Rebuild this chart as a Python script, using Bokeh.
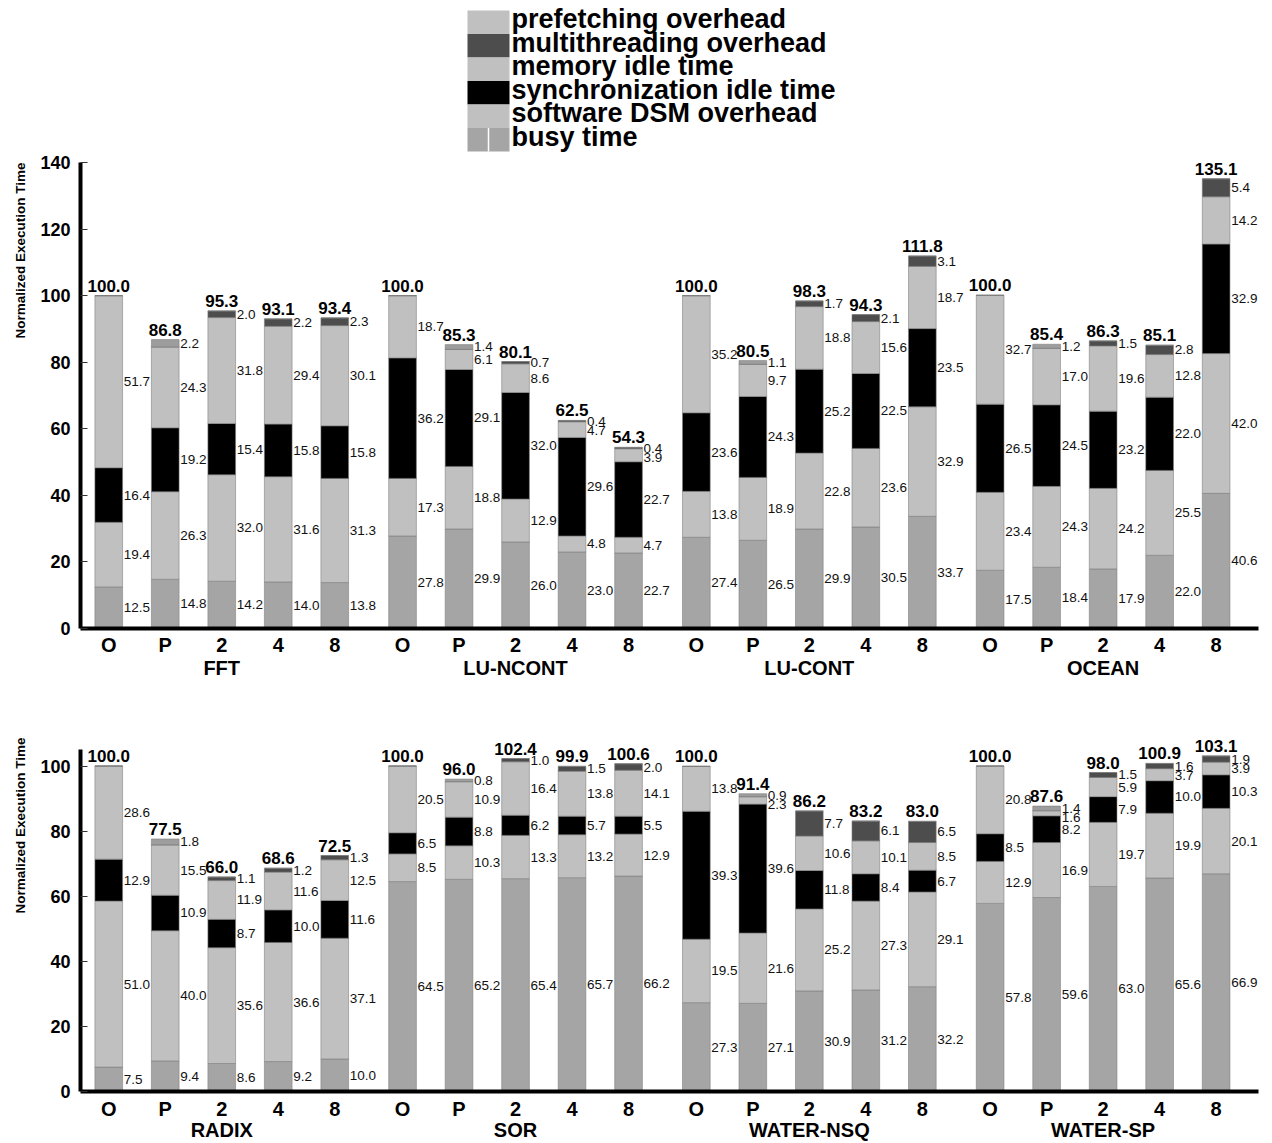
from bokeh.plotting import figure
from bokeh.models import (ColumnDataSource, LinearAxis, Range1d, FixedTicker,
                          LabelSet, Title)
from bokeh.layouts import column
from bokeh.embed import file_html
from bokeh.resources import INLINE
from bokeh.core.properties import value

# ---------------------------------------------------------------- data
configs = ["O", "P", "2", "4", "8"]

top_apps = ["FFT", "LU-NCONT", "LU-CONT", "OCEAN"]
top_busy = [12.5, 14.8, 14.2, 14.0, 13.8, 27.8, 29.9, 26.0, 23.0, 22.7,
            27.4, 26.5, 29.9, 30.5, 33.7, 17.5, 18.4, 17.9, 22.0, 40.6]
top_dsm = [19.4, 26.3, 32.0, 31.6, 31.3, 17.3, 18.8, 12.9, 4.8, 4.7,
           13.8, 18.9, 22.8, 23.6, 32.9, 23.4, 24.3, 24.2, 25.5, 42.0]
top_sync = [16.4, 19.2, 15.4, 15.8, 15.8, 36.2, 29.1, 32.0, 29.6, 22.7,
            23.6, 24.3, 25.2, 22.5, 23.5, 26.5, 24.5, 23.2, 22.0, 32.9]
top_mem = [51.7, 24.3, 31.8, 29.4, 30.1, 18.7, 6.1, 8.6, 4.7, 3.9,
           35.2, 9.7, 18.8, 15.6, 18.7, 32.7, 17.0, 19.6, 12.8, 14.2]
top_mt = [0, 0, 2.0, 2.2, 2.3, 0, 0, 0.7, 0.4, 0.4,
          0, 0, 1.7, 2.1, 3.1, 0, 0, 1.5, 2.8, 5.4]
top_pf = [0, 2.2, 0, 0, 0, 0, 1.4, 0, 0, 0,
          0, 1.1, 0, 0, 0, 0, 1.2, 0, 0, 0]
top_total = [100.0, 86.8, 95.3, 93.1, 93.4, 100.0, 85.3, 80.1, 62.5, 54.3,
             100.0, 80.5, 98.3, 94.3, 111.8, 100.0, 85.4, 86.3, 85.1, 135.1]

bot_apps = ["RADIX", "SOR", "WATER-NSQ", "WATER-SP"]
bot_busy = [7.5, 9.4, 8.6, 9.2, 10.0, 64.5, 65.2, 65.4, 65.7, 66.2,
            27.3, 27.1, 30.9, 31.2, 32.2, 57.8, 59.6, 63.0, 65.6, 66.9]
bot_dsm = [51.0, 40.0, 35.6, 36.6, 37.1, 8.5, 10.3, 13.3, 13.2, 12.9,
           19.5, 21.6, 25.2, 27.3, 29.1, 12.9, 16.9, 19.7, 19.9, 20.1]
bot_sync = [12.9, 10.9, 8.7, 10.0, 11.6, 6.5, 8.8, 6.2, 5.7, 5.5,
            39.3, 39.6, 11.8, 8.4, 6.7, 8.5, 8.2, 7.9, 10.0, 10.3]
bot_mem = [28.6, 15.5, 11.9, 11.6, 12.5, 20.5, 10.9, 16.4, 13.8, 14.1,
           13.8, 2.3, 10.6, 10.1, 8.5, 20.8, 1.6, 5.9, 3.7, 3.9]
bot_mt = [0, 0, 1.1, 1.2, 1.3, 0, 0, 1.0, 1.5, 2.0,
          0, 0, 7.7, 6.1, 6.5, 0, 0, 1.5, 1.6, 1.9]
bot_pf = [0, 1.8, 0, 0, 0, 0, 0.8, 0, 0, 0,
          0, 0.9, 0, 0, 0, 0, 1.4, 0, 0, 0]
bot_total = [100.0, 77.5, 66.0, 68.6, 72.5, 100.0, 96.0, 102.4, 99.9, 100.6,
             100.0, 91.4, 86.2, 83.2, 83.0, 100.0, 87.6, 98.0, 100.9, 103.1]

top_ticks = [0, 20, 40, 60, 80, 100, 120, 140]
bot_ticks = [0, 20, 40, 60, 80, 100]

# stacking order, bottom to top
segments = ["busy", "dsm", "sync", "mem", "mt", "pf"]
bar_colors = ["#a5a5a5", "#c0c0c0", "#000000", "#c0c0c0", "#4d4d4d", "#9d9d9d"]

legend_labels = ["prefetching overhead", "multithreading overhead",
                 "memory idle time", "synchronization idle time",
                 "software DSM overhead", "busy time"]
legend_colors = ["#c0c0c0", "#4d4d4d", "#c0c0c0", "#000000", "#c0c0c0", "#a5a5a5"]

FONT = "Liberation Sans"
W = 1272
LEFT = 80
RIGHT = 14

# x layout: 10 units per bar slot, 2 extra units between benchmark groups
SLOT = 10
GROUP_STEP = len(configs) * SLOT + 2
X_END = 208.5
BAR_W = 4.9
LABEL_GAP_PX = 9.5


def make_chart(apps, cols, totals, y_end, y_axis_top, ticks, height,
               border_top, border_bottom, title_offset, sub_standoff, group_standoff):
    xs = [gi * GROUP_STEP + ci * SLOT + SLOT / 2
          for gi in range(len(apps)) for ci in range(len(configs))]
    sub_names = [c for _ in apps for c in configs]
    group_x = [gi * GROUP_STEP + (len(configs) * SLOT) / 2 for gi in range(len(apps))]

    data = dict(x=xs)
    for name, vals in zip(segments, cols):
        data[name] = vals
    src = ColumnDataSource(data)

    frame_h = height - border_top - border_bottom
    gap = LABEL_GAP_PX * y_end / frame_h

    p = figure(width=W, height=height, output_backend="svg", toolbar_location=None,
               x_range=Range1d(0, X_END), y_range=Range1d(0, y_end),
               min_border_left=LEFT, min_border_right=RIGHT,
               min_border_top=border_top, min_border_bottom=border_bottom,
               outline_line_color=None)
    p.grid.visible = False

    p.vbar_stack(segments, x="x", width=BAR_W, source=src,
                 fill_color=bar_colors, line_color="#7c7c7c", line_width=0.8,
                 line_alpha=0.7)

    # segment value labels, right of each bar, spread apart when crowded
    lx, ly, lt = [], [], []
    for i, xv in enumerate(xs):
        base = 0.0
        entries = []
        for vals in cols:
            v = vals[i]
            if v:
                entries.append((base + v / 2.0, v))
            base += v
        prev = None
        for mid, v in reversed(entries):
            y = mid if prev is None else min(mid, prev - gap)
            prev = y
            lx.append(xv)
            ly.append(y)
            lt.append(f"{v:.1f}")
    seg_src = ColumnDataSource(dict(x=lx, y=ly, t=lt))
    p.add_layout(LabelSet(x="x", y="y", text="t", source=seg_src, x_offset=15,
                          text_align="left", text_baseline="middle",
                          text_font=value(FONT), text_font_size=value("13.5px"),
                          text_color="#111111"))

    # bar totals above each bar
    tops = [sum(c[i] for c in cols) for i in range(len(xs))]
    tot_src = ColumnDataSource(dict(x=xs, y=tops, t=[f"{t:.1f}" for t in totals]))
    p.add_layout(LabelSet(x="x", y="y", text="t", source=tot_src, y_offset=4,
                          text_align="center", text_baseline="alphabetic",
                          text_font=value(FONT), text_font_size=value("17px"),
                          text_font_style="bold", text_color="black"))

    # configuration labels under each bar
    xa = p.xaxis[0]
    xa.ticker = FixedTicker(ticks=xs)
    xa.major_label_overrides = {xv: n for xv, n in zip(xs, sub_names)}
    xa.axis_line_width = 4
    xa.axis_line_color = "black"
    xa.major_tick_line_color = None
    xa.minor_tick_line_color = None
    xa.major_label_standoff = sub_standoff
    xa.major_label_text_font = FONT
    xa.major_label_text_font_size = "20px"
    xa.major_label_text_font_style = "bold"
    xa.major_label_text_color = "black"

    # benchmark names under each group
    ga = LinearAxis(ticker=FixedTicker(ticks=group_x),
                    major_label_overrides={gx: a for gx, a in zip(group_x, apps)},
                    axis_line_color=None, major_tick_line_color=None,
                    minor_tick_line_color=None, major_label_standoff=group_standoff,
                    major_label_text_font=FONT, major_label_text_font_size="20px",
                    major_label_text_font_style="bold",
                    major_label_text_color="black")
    p.add_layout(ga, "below")

    ya = p.yaxis[0]
    ya.ticker = FixedTicker(ticks=ticks)
    ya.bounds = (0, y_axis_top)
    ya.axis_line_width = 4
    ya.axis_line_color = "black"
    ya.major_tick_in = 7
    ya.major_tick_out = 0
    ya.major_tick_line_color = "#333333"
    ya.minor_tick_line_color = None
    ya.major_label_standoff = 10
    ya.major_label_text_font = FONT
    ya.major_label_text_font_size = "18px"
    ya.major_label_text_font_style = "bold"
    ya.major_label_text_color = "black"

    ytitle = Title(text="Normalized Execution Time", align="right",
                   text_font=FONT, text_font_size="13.5px", text_font_style="bold",
                   text_color="black", standoff=19, offset=title_offset)
    p.add_layout(ytitle, "left")
    return p


# ---------------------------------------------------------------- legend
LEG_H = 152
ROW_H = 23.5
LEG_TOP = 10
SW_LEFT, SW_RIGHT = 467, 509

lp = figure(width=W, height=LEG_H, x_axis_type=None, y_axis_type=None,
            x_range=Range1d(LEFT, W - RIGHT), y_range=Range1d(LEG_H, 0),
            output_backend="svg", toolbar_location=None,
            min_border_left=LEFT, min_border_right=RIGHT,
            min_border_top=0, min_border_bottom=0,
            outline_line_color=None)
lp.grid.visible = False
row_top = [LEG_TOP + i * ROW_H for i in range(len(legend_labels))]
row_bot = [t + ROW_H for t in row_top]
row_mid = [t + ROW_H / 2 for t in row_top]
lp.quad(left=SW_LEFT, right=SW_RIGHT, top=row_top, bottom=row_bot,
        fill_color=legend_colors, line_color=None)
# thin white notch in the busy-time swatch
lp.segment(x0=488, x1=488, y0=row_top[-1], y1=row_bot[-1],
           line_color="white", line_width=1.5)
lp.text(x=SW_RIGHT + 2, y=row_mid, text=legend_labels, y_offset=-3,
        text_align="left", text_baseline="middle",
        text_font=value(FONT), text_font_size=value("27px"),
        text_font_style="bold", text_color="black")

# ---------------------------------------------------------------- charts
top = make_chart(top_apps, [top_busy, top_dsm, top_sync, top_mem, top_mt, top_pf],
                 top_total, 142.4, 140, top_ticks, height=548,
                 border_top=2, border_bottom=72, title_offset=8,
                 sub_standoff=-1, group_standoff=-8)
bottom = make_chart(bot_apps, [bot_busy, bot_dsm, bot_sync, bot_mem, bot_mt, bot_pf],
                    bot_total, 110, 105, bot_ticks, height=443,
                    border_top=33, border_bottom=51, title_offset=4,
                    sub_standoff=0, group_standoff=-10)

layout = column(lp, top, bottom, spacing=0)
open("out.html", "w").write(file_html(layout, INLINE))
